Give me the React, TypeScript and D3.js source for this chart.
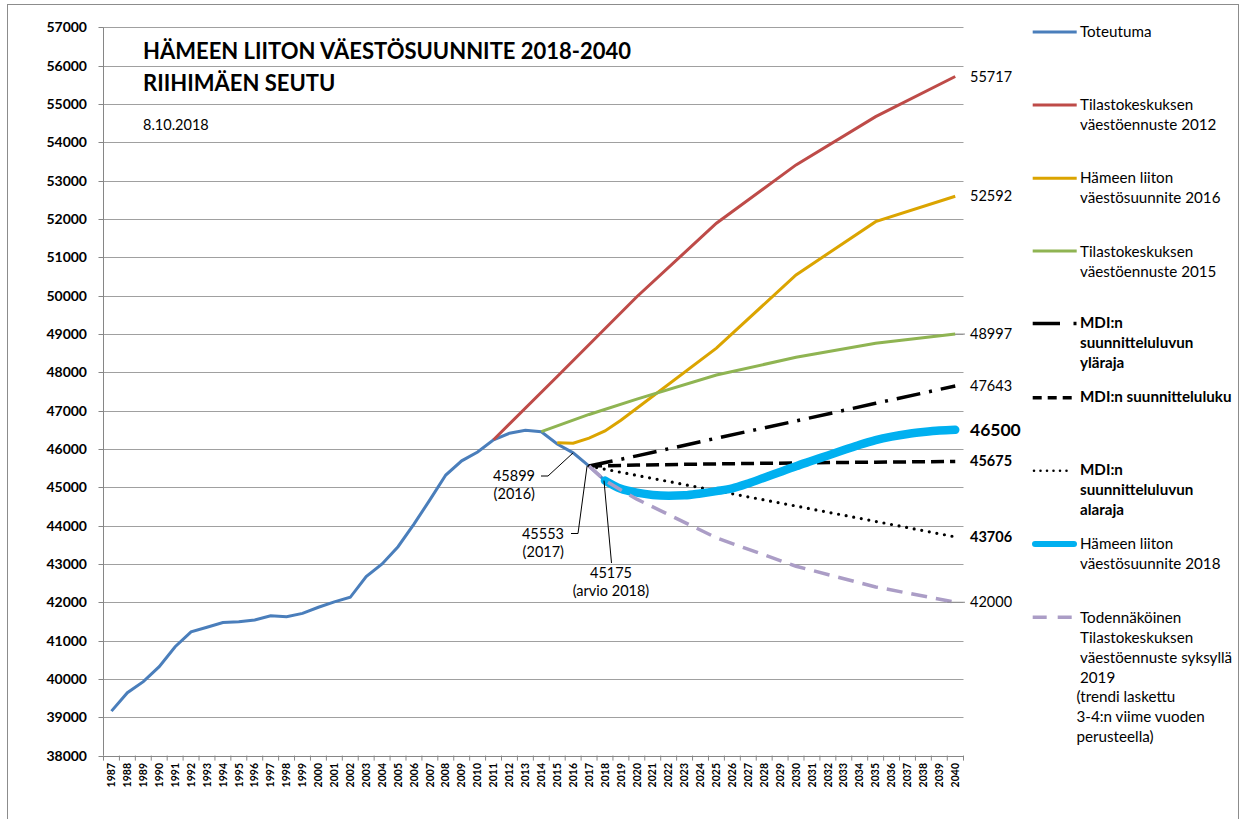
import React from 'react';
import * as d3 from 'd3';

const years = [
  '1987','1988','1989','1990','1991','1992','1993','1994','1995','1996','1997','1998','1999','2000',
  '2001','2002','2003','2004','2005','2006','2007','2008','2009','2010','2011','2012','2013','2014',
  '2015','2016','2017','2018','2019','2020','2021','2022','2023','2024','2025','2026','2027','2028',
  '2029','2030','2031','2032','2033','2034','2035','2036','2037','2038','2039','2040',
];
const yTickValues = [38000,39000,40000,41000,42000,43000,44000,45000,46000,47000,48000,49000,50000,51000,52000,53000,54000,55000,56000,57000];

const toteutumaYears = years.slice(0, 32);
const toteutuma = [39160,39640,39930,40320,40840,41230,41350,41470,41490,41540,41650,41620,41710,41870,42010,42130,42670,43000,43450,44040,44670,45320,45690,45920,46240,46410,46490,46450,46130,45899,45553,45175];

const tk2012Years = ['2011','2015','2020','2025','2030','2035','2040'];
const tk2012 = [46240,47890,49970,51890,53410,54670,55717];

const hl2016Years = ['2015','2016','2017','2018','2019','2020','2025','2030','2035','2040'];
const hl2016 = [46160,46150,46280,46470,46750,47060,48630,50540,51930,52592];

const tk2015Years = ['2014','2017','2020','2025','2030','2035','2040'];
const tk2015 = [46450,46900,47300,47930,48390,48760,48997];

const mdiYears = ['2017','2020','2025','2030','2035','2040'];
const mdiYlaraja = [45553,45820,46280,46730,47190,47643];
const mdiLuku = [45553,45580,45610,45635,45655,45675];
const mdiAlaraja = [45553,45310,44910,44510,44110,43706];

const hl2018Years = years.slice(31);
const hl2018 = [45175,44960,44860,44800,44780,44790,44840,44900,44970,45100,45250,45400,45550,45690,45830,45970,46110,46230,46320,46390,46440,46480,46500];

const todYears = ['2017','2018','2020','2025','2030','2035','2040'];
const tod2019 = [45553,45175,44690,43680,42940,42400,42000];

const endLabels = [
  { text: '55717', value: 55717, bold: false, size: 14.5 },
  { text: '52592', value: 52592, bold: false, size: 14.5 },
  { text: '48997', value: 48997, bold: false, size: 14.5 },
  { text: '47643', value: 47643, bold: false, size: 14.5 },
  { text: '46500', value: 46500, bold: true, size: 17.5 },
  { text: '45675', value: 45675, bold: true, size: 14.5 },
  { text: '43706', value: 43706, bold: true, size: 14.5 },
  { text: '42000', value: 42000, bold: false, size: 14.5 },
];

const FONT = 'Lato, "Open Sans", sans-serif';

const styles: Record<string, any> = {
  toteutuma: { stroke: '#4a7ebb', strokeWidth: 3 },
  tk2012: { stroke: '#be4b48', strokeWidth: 3 },
  hl2016: { stroke: '#dba400', strokeWidth: 3 },
  tk2015: { stroke: '#8fb452', strokeWidth: 3 },
  ylaraja: { stroke: '#000', strokeWidth: 3.5, strokeDasharray: '24,9,3,9' },
  luku: { stroke: '#000', strokeWidth: 3.5, strokeDasharray: '13,6' },
  alaraja: { stroke: '#000', strokeWidth: 3.2, strokeDasharray: '0,7.7', strokeLinecap: 'round' },
  hl2018: { stroke: '#00b0f0', strokeWidth: 8.5, strokeLinecap: 'round', strokeLinejoin: 'round' },
  tod: { stroke: '#ab9dc6', strokeWidth: 3.5, strokeDasharray: '16,9' },
};

const legend = [
  { key: 'toteutuma', lineY: 32, lines: [{ t: 'Toteutuma', y: 36.7 }], bold: false },
  { key: 'tk2012', lineY: 105, lines: [{ t: 'Tilastokeskuksen', y: 110 }, { t: 'väestöennuste 2012', y: 130 }], bold: false },
  { key: 'hl2016', lineY: 178.3, lines: [{ t: 'Hämeen liiton', y: 183.3 }, { t: 'väestösuunnite 2016', y: 203.3 }], bold: false },
  { key: 'tk2015', lineY: 251, lines: [{ t: 'Tilastokeskuksen', y: 256.7 }, { t: 'väestöennuste 2015', y: 276.7 }], bold: false },
  { key: 'ylaraja', lineY: 323.5, lines: [{ t: 'MDI:n', y: 328.3 }, { t: 'suunnitteluluvun', y: 348.3 }, { t: 'yläraja', y: 368.3 }], bold: true },
  { key: 'luku', lineY: 397.7, lines: [{ t: 'MDI:n suunnitteluluku', y: 401.7 }], bold: true },
  { key: 'alaraja', lineY: 470.7, lines: [{ t: 'MDI:n', y: 475 }, { t: 'suunnitteluluvun', y: 495 }, { t: 'alaraja', y: 515 }], bold: true },
  { key: 'hl2018', lineY: 544, lines: [{ t: 'Hämeen liiton', y: 549.3 }, { t: 'väestösuunnite 2018', y: 569.3 }], bold: false },
  { key: 'tod', lineY: 617.3, lines: [
    { t: 'Todennäköinen', y: 622.7 }, { t: 'Tilastokeskuksen', y: 642.7 },
    { t: 'väestöennuste syksyllä', y: 662.7 }, { t: '2019', y: 682.7 },
    { t: '(trendi laskettu', y: 701.7, x: 1076.5 }, { t: '3-4:n viime vuoden', y: 721.7, x: 1076.5 },
    { t: 'perusteella)', y: 741.7, x: 1076.5 },
  ], bold: false },
];

export default function App() {
  const W = 1246, H = 819;
  const x = d3.scaleBand<string>().domain(years).range([103.5, 963.2]).padding(0);
  const bw = x.bandwidth();
  const cx = (yr: string) => (x(yr) as number) + bw / 2;
  const y = d3.scaleLinear().domain([38000, 57000]).range([755.6, 27.3]);
  const left = 103.5, right = 963.5;

  const mk = (ys: string[], vs: number[]) =>
    d3.line<number>().x((_, i) => cx(ys[i])).y((v) => y(v))(vs) as string;

  const series = [
    { key: 'toteutuma', d: mk(toteutumaYears, toteutuma) },
    { key: 'tk2012', d: mk(tk2012Years, tk2012) },
    { key: 'hl2016', d: mk(hl2016Years, hl2016) },
    { key: 'tk2015', d: mk(tk2015Years, tk2015) },
    { key: 'ylaraja', d: mk(mdiYears, mdiYlaraja) },
    { key: 'luku', d: mk(mdiYears, mdiLuku) },
    { key: 'alaraja', d: mk(mdiYears, mdiAlaraja) },
    { key: 'hl2018', d: d3.line<number>().x((_, i) => cx(hl2018Years[i])).y((v) => y(v)).curve(d3.curveMonotoneX)(hl2018) as string },
    { key: 'tod', d: mk(todYears, tod2019) },
  ];

  const p2016 = [cx('2016'), y(45899)];
  const p2017 = [cx('2017'), y(45553)];
  const p2018 = [cx('2018'), y(45175)];

  return (
    <svg width={W} height={H} style={{ position: 'absolute', left: 0, top: 0, background: '#fff' }} fontFamily={FONT}>
      <rect x={0} y={0} width={W} height={H} fill="#fff" />
      <rect x={7.5} y={4.5} width={1231} height={830} fill="none" stroke="#8c8c8c" strokeWidth={1} />

      {/* gridlines */}
      {yTickValues.map((v) => (
        <line key={v} x1={left} x2={right} y1={Math.round(y(v)) + 0.5} y2={Math.round(y(v)) + 0.5} stroke="#a0a0a0" strokeWidth={1} />
      ))}
      {/* y axis */}
      <line x1={left} x2={left} y1={y(57000)} y2={y(38000)} stroke="#868686" />
      {yTickValues.map((v) => (
        <g key={'t' + v}>
          <line x1={left - 5} x2={left} y1={Math.round(y(v)) + 0.5} y2={Math.round(y(v)) + 0.5} stroke="#868686" />
          <text x={87} y={y(v)} dy="0.35em" textAnchor="end" fontSize={14} fontWeight="bold" fill="#000">{v}</text>
        </g>
      ))}
      {/* x axis */}
      <line x1={left} x2={right} y1={Math.round(y(38000)) + 0.5} y2={Math.round(y(38000)) + 0.5} stroke="#868686" />
      {years.map((yr) => (
        <line key={'xt' + yr} x1={(x(yr) as number)} x2={(x(yr) as number)} y1={y(38000)} y2={y(38000) + 5} stroke="#868686" />
      ))}
      <line x1={right} x2={right} y1={y(38000)} y2={y(38000) + 5} stroke="#868686" />
      {years.map((yr) => (
        <text key={'xl' + yr} transform={`translate(${cx(yr)},${763}) rotate(-90)`} textAnchor="end" dy="0.35em" fontSize={10.5} fontWeight="bold" fill="#000">{yr}</text>
      ))}

      {/* series */}
      {series.map((s) => (
        <path key={s.key} d={s.d} fill="none" {...styles[s.key]} />
      ))}

      {/* annotations */}
      <g fontSize={14.5} fill="#000">
        <text x={535} y={481} textAnchor="end">45899</text>
        <text x={535} y={499} textAnchor="end">(2016)</text>
        <polyline points={`541,476 548,476 ${p2016[0]},${p2016[1]}`} fill="none" stroke="#000" strokeWidth={1} />
        <text x={564} y={539} textAnchor="end">45553</text>
        <text x={564} y={557} textAnchor="end">(2017)</text>
        <polyline points={`571,533.5 578,533.5 ${p2017[0] - 2},${p2017[1]}`} fill="none" stroke="#000" strokeWidth={1} />
        <text x={611} y={578} textAnchor="middle">45175</text>
        <text x={611} y={596} textAnchor="middle">(arvio 2018)</text>
        <line x1={611.5} y1={563} x2={p2018[0] - 1} y2={p2018[1]} stroke="#000" strokeWidth={1} />
      </g>

      {/* end labels */}
      <line x1={cx('2040')} x2={965} y1={y(48997)} y2={y(48997)} stroke="#8c8c8c" />
      <line x1={cx('2040') - 8} x2={965} y1={y(42000)} y2={y(42000)} stroke="#8c8c8c" />
      {endLabels.map((l) => (
        <text key={l.text} x={970} y={y(l.value)} dy="0.35em" fontSize={l.size} fontWeight={l.bold ? 'bold' : 'normal'} fill="#000">{l.text}</text>
      ))}

      {/* title */}
      <text x={143} y={59} fontSize={22} fontWeight="bold" fill="#000">HÄMEEN LIITON VÄESTÖSUUNNITE 2018-2040</text>
      <text x={143} y={91} fontSize={22} fontWeight="bold" fill="#000">RIIHIMÄEN SEUTU</text>
      <text x={143} y={130} fontSize={14.5} fill="#000">8.10.2018</text>

      {/* legend */}
      {legend.map((it) => (
        <g key={'lg' + it.key}>
          {it.key === 'ylaraja' ? (
            <g>
              <line x1={1032.7} x2={1060} y1={it.lineY} y2={it.lineY} stroke="#000" strokeWidth={3.5} />
              <line x1={1073.5} x2={1076.5} y1={it.lineY} y2={it.lineY} stroke="#000" strokeWidth={3.5} />
            </g>
          ) : it.key === 'tod' ? (
            <line x1={1032.7} x2={1074} y1={it.lineY} y2={it.lineY} {...styles.tod} strokeDasharray="14,11" />
          ) : it.key === 'luku' ? (
            <line x1={1032.7} x2={1072} y1={it.lineY} y2={it.lineY} {...styles.luku} strokeDasharray="9,6" />
          ) : it.key === 'alaraja' ? (
            <line x1={1034} x2={1068} y1={it.lineY} y2={it.lineY} stroke="#000" strokeWidth={2.6} strokeDasharray="0,6.5" strokeLinecap="round" />
          ) : (
            <line x1={it.key === 'hl2018' ? 1035 : 1032.7} x2={it.key === 'hl2018' ? 1074 : 1076.7} y1={it.lineY} y2={it.lineY} {...styles[it.key]} strokeWidth={it.key === 'hl2018' ? 6 : 3} />
          )}
          {it.lines.map((ln: any) => (
            <text key={ln.t} x={ln.x ?? 1080} y={ln.y} fontSize={15.2} fontWeight={it.bold ? 'bold' : 'normal'} fill="#000">{ln.t}</text>
          ))}
        </g>
      ))}
    </svg>
  );
}
